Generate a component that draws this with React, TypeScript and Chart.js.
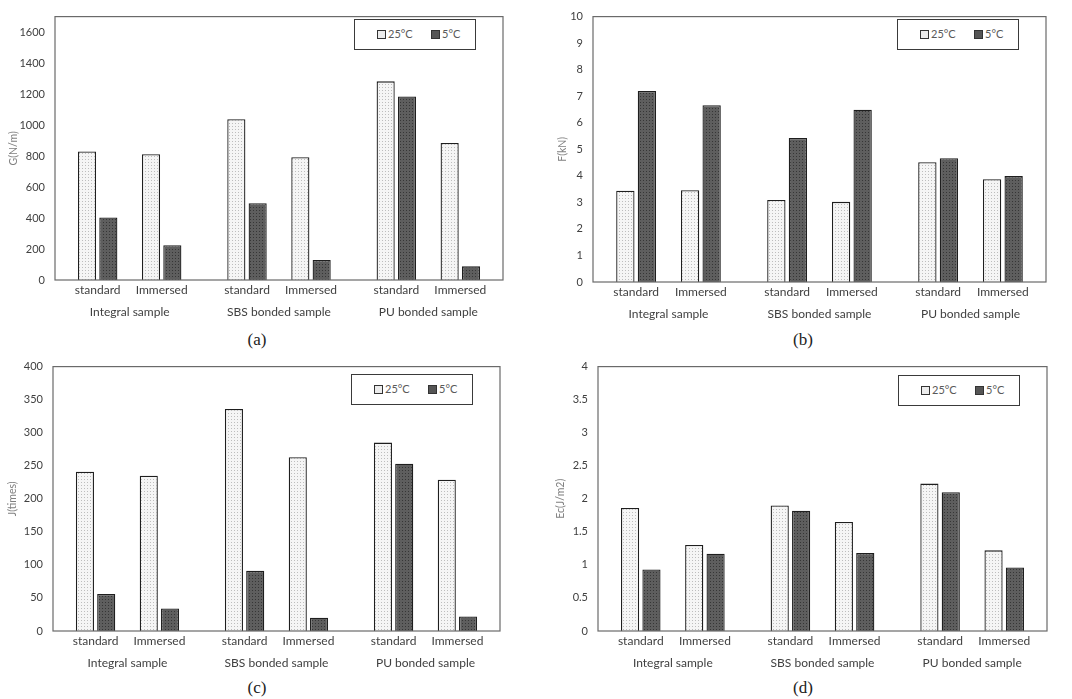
import React, { useEffect, useRef } from 'react';
import Chart from 'chart.js/auto';

// groups on the x axis and the two conditions tested inside each group
const groups = ['Integral sample', 'SBS bonded sample', 'PU bonded sample'];
const conditions = ['standard', 'Immersed'];
const seriesNames = ['25°C', '5°C'];

// values in order: Integral std, Integral imm, SBS std, SBS imm, PU std, PU imm
// (a) G(N/m)
const g25 = [830, 812, 1038, 793, 1282, 885];
const g5 = [403, 225, 495, 129, 1184, 88];
const gTicks = [0, 200, 400, 600, 800, 1000, 1200, 1400, 1600];

// (b) F(kN)
const f25 = [3.44, 3.46, 3.09, 3.02, 4.51, 3.87];
const f5 = [7.2, 6.66, 5.43, 6.49, 4.66, 3.99];
const fTicks = [0, 1, 2, 3, 4, 5, 6, 7, 8, 9, 10];

// (c) J(times)
const j25 = [241, 235, 336, 263, 285, 229];
const j5 = [56, 34, 91, 20, 253, 22];
const jTicks = [0, 50, 100, 150, 200, 250, 300, 350, 400];

// (d) Ec(J/m2)
const ec25 = [1.86, 1.3, 1.9, 1.65, 2.23, 1.22];
const ec5 = [0.93, 1.17, 1.82, 1.18, 2.1, 0.96];
const ecTicks = [0, 0.5, 1, 1.5, 2, 2.5, 3, 3.5, 4];

const FONT = 'Lato';
const TEXT = '#404040';
const X_H = 42;

type Rect = { l: number; t: number; r: number; b: number };

function makePattern(bg: string, dot: string) {
  const c = document.createElement('canvas');
  c.width = 3;
  c.height = 3;
  const ctx = c.getContext('2d')!;
  ctx.fillStyle = bg;
  ctx.fillRect(0, 0, 3, 3);
  ctx.fillStyle = dot;
  ctx.fillRect(0, 0, 1, 1);
  return ctx.createPattern(c, 'repeat')!;
}

const pick = (arr: number[], k: number) => arr.filter((_, i) => i % 2 === k);

// border around the plot area
const framePlugin = {
  id: 'frame',
  afterDatasetsDraw(chart: Chart) {
    const { ctx, chartArea: a } = chart;
    ctx.save();
    ctx.strokeStyle = '#6a6a6a';
    ctx.lineWidth = 1.2;
    ctx.strokeRect(a.left, a.top, a.right - a.left, a.bottom - a.top);
    ctx.restore();
  },
};

// "standard" / "Immersed" under each pair of bars, centred on the bars
const conditionLabels = {
  id: 'conditionLabels',
  afterDraw(chart: Chart) {
    const { ctx, chartArea } = chart;
    const pairs = [[0, 1], [3, 4]];
    ctx.save();
    ctx.font = `12px ${FONT}`;
    ctx.fillStyle = TEXT;
    ctx.textAlign = 'center';
    ctx.textBaseline = 'middle';
    groups.forEach((_, i) => {
      pairs.forEach(([a, b], k) => {
        const xa = (chart.getDatasetMeta(a).data[i] as any).x;
        const xb = (chart.getDatasetMeta(b).data[i] as any).x;
        ctx.fillText(conditions[k], (xa + xb) / 2, chartArea.bottom + 10);
      });
    });
    ctx.restore();
  },
};

interface PanelProps {
  boxX: number;
  boxY: number;
  boxR: number;
  plot: Rect;
  yTitle: string;
  yMax: number;
  ticks: number[];
  v25: number[];
  v5: number[];
  caption: string;
  capX: number;
  capY: number;
}

const Panel: React.FC<PanelProps> = ({ boxX, boxY, boxR, plot, yTitle, yMax, ticks, v25, v5, caption, capX, capY }) => {
  const ref = useRef<HTMLCanvasElement>(null);
  const w = boxR - boxX;
  const h = plot.b - boxY + X_H;

  useEffect(() => {
    if (!ref.current) return;
    const light = makePattern('#f5f5f5', '#bdbdbd');
    const dark = makePattern('#5e5e5e', '#363636');
    const bar = (label: string, data: (number | null)[], fill: CanvasPattern | string) => ({
      label,
      data,
      backgroundColor: fill,
      borderColor: '#1e1e1e',
      borderWidth: 1.3,
      categoryPercentage: 5 / 7,
      barPercentage: 0.85,
    });
    const chart = new Chart(ref.current, {
      type: 'bar',
      data: {
        labels: groups,
        datasets: [
          bar(seriesNames[0], pick(v25, 0), light),
          bar(seriesNames[1], pick(v5, 0), dark),
          bar('', groups.map(() => null), 'transparent'),
          bar(seriesNames[0], pick(v25, 1), light),
          bar(seriesNames[1], pick(v5, 1), dark),
        ],
      },
      options: {
        responsive: false,
        animation: false,
        layout: { padding: { left: 0, top: plot.t - boxY, right: boxR - plot.r, bottom: 0 } },
        plugins: { legend: { display: false }, tooltip: { enabled: false } },
        scales: {
          x: {
            grid: { display: false, drawTicks: false },
            border: { display: false },
            ticks: { padding: 25, color: TEXT, font: { family: FONT, size: 12 }, maxRotation: 0, autoSkip: false },
            afterFit: (s: any) => { s.height = X_H; },
          },
          y: {
            min: 0,
            max: yMax,
            afterBuildTicks: (axis: any) => { axis.ticks = ticks.map((v) => ({ value: v })); },
            grid: { display: false, drawTicks: false },
            border: { display: false },
            ticks: {
              padding: 10,
              color: TEXT,
              font: { family: FONT, size: 11 },
              autoSkip: false,
              callback: (v: any) => String(v),
            },
            title: { display: true, text: yTitle, color: '#808080', font: { family: FONT, size: 10.5 }, padding: 0 },
            afterFit: (s: any) => { s.width = plot.l - boxX; },
          },
        },
      } as any,
      plugins: [framePlugin, conditionLabels],
    });
    return () => chart.destroy();
  }, []);

  return (
    <>
      <canvas
        ref={ref}
        width={w}
        height={h}
        style={{ position: 'absolute', left: boxX, top: boxY, width: w, height: h }}
      />
      <div
        style={{
          position: 'absolute',
          left: plot.r - 27 - 122,
          top: plot.t + 10,
          width: 122,
          height: 31,
          border: '1.3px solid #3a3a3a',
          boxSizing: 'border-box',
          background: '#fff',
          fontFamily: FONT,
          fontSize: 11,
          color: '#595959',
        }}
      >
        {seriesNames.map((name, i) => (
          <div
            key={name}
            style={{ position: 'absolute', left: i === 0 ? 22 : 76, top: 7, display: 'flex', alignItems: 'center', lineHeight: '14px' }}
          >
            <span
              style={{
                display: 'inline-block',
                width: 7,
                height: 7,
                border: '1px solid #333',
                background: i === 0 ? '#ececec' : '#555',
                marginRight: 2,
              }}
            />
            {name}
          </div>
        ))}
      </div>
      <div
        style={{
          position: 'absolute',
          left: capX - 30,
          top: capY - 11,
          width: 60,
          textAlign: 'center',
          fontFamily: '"Liberation Serif", serif',
          fontSize: 17,
          lineHeight: '22px',
          color: '#222',
        }}
      >
        {caption}
      </div>
    </>
  );
};

export default function App() {
  return (
    <div style={{ position: 'relative', width: 1072, height: 699, background: '#fff', overflow: 'hidden' }}>
      <style>{'body{margin:0}'}</style>
      <Panel boxX={7} boxY={0} boxR={535} plot={{ l: 55, t: 9, r: 503, b: 280 }} yTitle="G(N/m)" yMax={1700}
        ticks={gTicks} v25={g25} v5={g5} caption="(a)" capX={257} capY={340} />
      <Panel boxX={556} boxY={0} boxR={1072} plot={{ l: 593, t: 9, r: 1046, b: 282 }} yTitle="F(kN)" yMax={10}
        ticks={fTicks} v25={f25} v5={f5} caption="(b)" capX={803} capY={340} />
      <Panel boxX={6} boxY={350} boxR={535} plot={{ l: 53, t: 364, r: 500, b: 631 }} yTitle="J(times)" yMax={400}
        ticks={jTicks} v25={j25} v5={j5} caption="(c)" capX={257} capY={688} />
      <Panel boxX={554} boxY={350} boxR={1072} plot={{ l: 598, t: 365, r: 1047, b: 631 }} yTitle="Ec(J/m2)" yMax={4}
        ticks={ecTicks} v25={ec25} v5={ec5} caption="(d)" capX={803} capY={688} />
    </div>
  );
}
